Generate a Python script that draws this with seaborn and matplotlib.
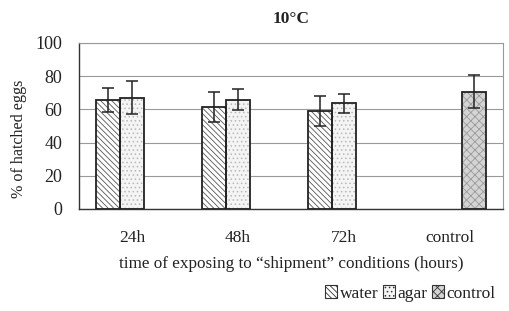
import numpy as np
import pandas as pd
import seaborn as sns
import matplotlib.pyplot as plt
from matplotlib.patches import Rectangle, Patch

# data
groups = ['24h', '48h', '72h', 'control']
series = ['water', 'agar', 'control']
water_mean = [65.8, 61.6, 58.8]
water_err = [7.2, 9.0, 9.0]
agar_mean = [66.9, 65.8, 63.6]
agar_err = [10.0, 6.3, 5.8]
control_mean = [70.7]
control_err = [9.8]

rows = []
for g, m, e in zip(groups[:3], water_mean, water_err):
    rows.append((g, 'water', m, e))
for g, m, e in zip(groups[:3], agar_mean, agar_err):
    rows.append((g, 'agar', m, e))
rows.append(('control', 'control', control_mean[0], control_err[0]))
df = pd.DataFrame(rows, columns=['time', 'treatment', 'hatched', 'err'])

sns.set_style('white')
plt.rcParams['font.family'] = ['Liberation Serif', 'DejaVu Serif']
plt.rcParams['hatch.linewidth'] = 0.6

fig = plt.figure(figsize=(5.09, 3.11), dpi=100)
ax = fig.add_axes([0.155, 0.328, 0.833, 0.534])

styles = {
    'water': dict(face='white', hatch='\\\\\\\\\\\\', hc='#555555'),
    'agar': dict(face='#f4f4f4', hatch='....', hc='#b8b8b8'),
    'control': dict(face='#d4d4d4', hatch='xxxx', hc='#9a9a9a'),
}

sns.barplot(data=df, x='time', y='hatched', hue='treatment', order=groups,
            hue_order=series, errorbar=None, width=0.68, ax=ax, legend=False)

for cont, name in zip(ax.containers, series):
    st = styles[name]
    sub = df[df.treatment == name].set_index('time')
    for bar in cont.patches:
        if np.isnan(bar.get_height()):
            continue
        bar.set_facecolor(st['face'])
        bar.set_edgecolor(st['hc'])
        bar.set_hatch(st['hatch'])
        bar.set_linewidth(0)
        outline = Rectangle(bar.get_xy(), bar.get_width(), bar.get_height(),
                            fill=False, edgecolor='#222222', linewidth=1.3, zorder=3)
        ax.add_patch(outline)
    xs = [b.get_x() + b.get_width() / 2 for b in cont.patches if not np.isnan(b.get_height())]
    ys = [b.get_height() for b in cont.patches if not np.isnan(b.get_height())]
    errs = [sub.loc[g, 'err'] for g in groups if g in sub.index]
    ax.errorbar(xs, ys, yerr=errs, fmt='none', ecolor='#222222', elinewidth=1.1,
                capsize=4, capthick=1.1, zorder=4)

ax.set_ylim(0, 100)
ax.set_xlim(-0.5, 3.5)
ax.set_yticks(range(0, 101, 20))
ax.yaxis.grid(True, color='#999999', linewidth=0.8)
ax.set_axisbelow(True)

for s in ['top', 'right']:
    ax.spines[s].set_color('#999999')
    ax.spines[s].set_linewidth(0.8)
for s in ['left', 'bottom']:
    ax.spines[s].set_color('#333333')
    ax.spines[s].set_linewidth(1.0)

ax.set_xticks(np.arange(-0.5, 3.6, 1.0))
ax.set_xticklabels([])
ax.set_xticks(range(4), minor=True)
ax.set_xticklabels(groups, minor=True, fontsize=12.5, color='#222222')
ax.tick_params(axis='x', which='major', direction='out', length=5, color='#333333', width=0.8)
ax.tick_params(axis='x', which='minor', length=0, pad=15)
ax.tick_params(axis='y', direction='out', length=6, color='#333333', width=0.8,
               labelsize=13, labelcolor='#222222', pad=6)

ax.set_xlabel('time of exposing to \u201cshipment\u201d conditions (hours)', fontsize=12.3,
              color='#222222', labelpad=7)
ax.set_ylabel('% of hatched eggs', fontsize=11.6, color='#222222')
ax.yaxis.set_label_coords(-0.122, 0.42)
ax.set_title('10\u00b0C', fontsize=12.5, fontweight='bold', pad=14, color='#222222')

handles = [Patch(facecolor=styles[n]['face'], edgecolor='#333333', hatch=styles[n]['hatch'],
                 linewidth=0.8) for n in series]
leg = fig.legend(handles, series, loc='lower right', bbox_to_anchor=(1.005, -0.02), ncol=3,
                 frameon=False, prop=dict(family='Liberation Serif', size=12.5),
                 handlelength=0.7, handleheight=0.7,
                 handletextpad=0.15, columnspacing=0.25)
for t in leg.get_texts():
    t.set_fontfamily(['Liberation Serif'])
    t.set_color('#222222')

fig.savefig('out.png', dpi=100)
